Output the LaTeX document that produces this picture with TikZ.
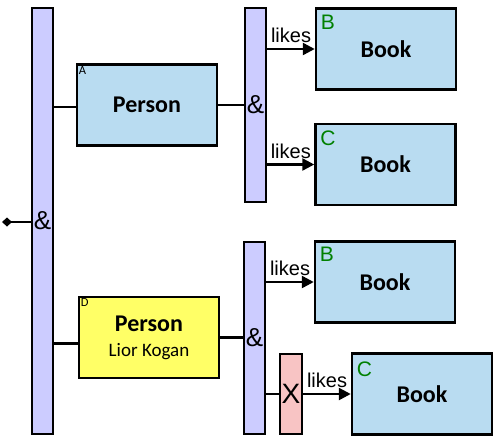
\documentclass[tikz,border=0pt]{standalone}
\usepackage{fontspec}
\setmainfont{Carlito}
\newfontfamily\arialfont{Liberation Sans}
\usepackage{tikz}
\usepackage{xcolor}
\usetikzlibrary{arrows.meta}

\definecolor{barfill}{HTML}{CCCCFF}
\definecolor{bookfill}{HTML}{B9DCF1}
\definecolor{matchfill}{HTML}{FFFF66}
\definecolor{notfill}{HTML}{F8C4C4}
\definecolor{tagcolor}{HTML}{008000}

\begin{document}
\begin{tikzpicture}[x=1pt,y=-1pt,
    andbar/.style={draw,line width=2.5pt,fill=barfill,minimum width=21,inner sep=0pt,
        font=\arialfont\fontsize{26}{26}\selectfont},
    notbox/.style={draw,line width=2.5pt,fill=notfill,minimum width=22,minimum height=80,inner sep=0pt,
        font=\arialfont\fontsize{28}{28}\selectfont},
    entity/.style={draw,line width=2.5pt,fill=bookfill,minimum width=140,minimum height=81,inner sep=0pt,
        font=\bfseries\fontsize{24}{24}\selectfont},
    tag/.style={anchor=north west,inner sep=0pt,text=tagcolor,font=\arialfont\fontsize{21}{21}\selectfont},
    smalltag/.style={anchor=north west,inner sep=0pt,font=\fontsize{12.5}{12.5}\selectfont},
    conn/.style={line width=2.5pt},
    likesarrow/.style={line width=2.5pt,-{Triangle[length=12,width=12]}},
    likes/.style={font=\arialfont\fontsize{20}{20}\selectfont,inner sep=2pt,yshift=3pt}]
        \useasboundingbox (0,0) rectangle (494,437);

        % And bars
        \node[andbar,minimum height=426] (big) at (42.5,221) {\&};
        \node[andbar,minimum height=194] (bar1) at (255.5,105) {\&};
        \node[andbar,minimum height=192] (bar2) at (254.5,338) {\&};

        % Root
        \coordinate (root) at (2,222);
        \draw[conn,{Diamond[length=10,width=9]}-] (root) -- (big.west |- root);

        % Person A
        \node[entity] (pA) at (147,105) {Person};
        \node[smalltag] (tA) at ([shift={(3,3)}]pA.north west) {A};
        \draw[conn] ([yshift=-2pt]big.east |- pA.west) -- ([yshift=-2pt]pA.west);
        \draw[conn] (pA.east) -- (bar1.west |- pA.east);

        % Person D
        \node[entity,fill=matchfill,align=center,font=\fontsize{19}{25}\selectfont] (pD) at (149,337.5)
            {{\bfseries\fontsize{24}{25}\selectfont Person}\\Lior Kogan};
        \node[smalltag] (tD) at ([shift={(3,3)}]pD.north west) {D};
        \draw[conn] ([yshift=-6pt]big.east |- pD.west) -- ([yshift=-6pt]pD.west);
        \draw[conn] (pD.east) -- (bar2.west |- pD.east);

        % Books (top)
        \node[entity] (b1) at (386,49) {Book};
        \node[tag] (tB1) at ([shift={(6,8)}]b1.north west) {B};
        \draw[likesarrow] (bar1.east |- b1.west) -- (b1.west) node[likes,midway,above] (l1) {likes};

        \node[entity] (b2) at (385.5,164.5) {Book};
        \node[tag] (tC1) at ([shift={(6,8)}]b2.north west) {C};
        \draw[likesarrow] (bar1.east |- b2.west) -- (b2.west) node[likes,midway,above] (l2) {likes};

        % Books (bottom)
        \node[entity] (b3) at (385,282) {Book};
        \node[tag] (tB2) at ([shift={(6,7)}]b3.north west) {B};
        \draw[likesarrow] (bar2.east |- b3.west) -- (b3.west) node[likes,midway,above] (l3) {likes};

        \node[notbox] (nx) at (291,394) {X};
        \draw[conn] (bar2.east |- nx.west) -- (nx.west);

        \node[entity] (b4) at (422,394) {Book};
        \node[tag] (tC2) at ([shift={(6,9)}]b4.north west) {C};
        \draw[likesarrow] (nx.east) -- (b4.west) node[likes,midway,above] (l4) {likes};
    \end{tikzpicture}
\end{document}
